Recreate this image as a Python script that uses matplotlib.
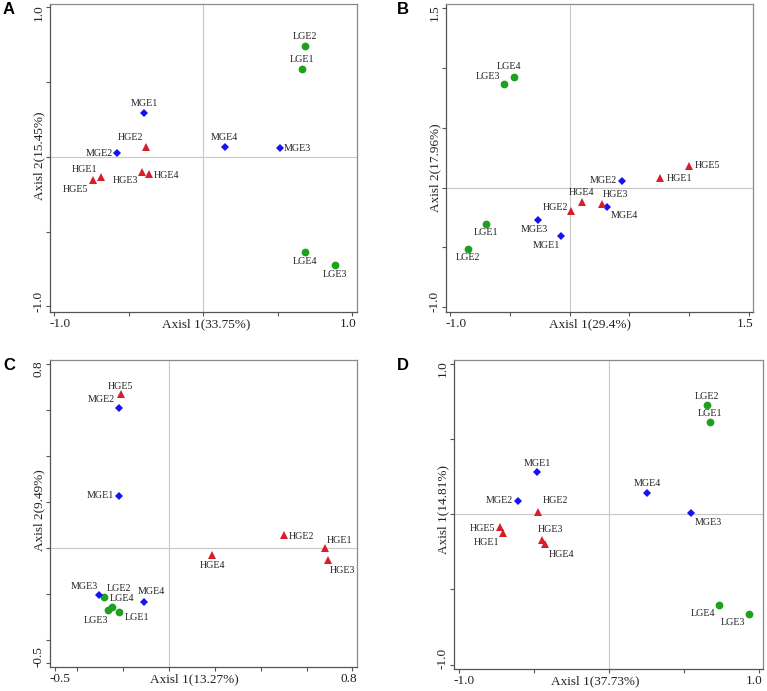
import matplotlib
matplotlib.use('Agg')
import matplotlib.pyplot as plt
from matplotlib.transforms import offset_copy

plt.rcParams['font.family'] = ['Liberation Serif', 'DejaVu Serif']

# ── Data (ordinate scores) ─────────────────────────────────────────────────
NAMES = ['LGE1', 'LGE2', 'LGE3', 'LGE4',
         'MGE1', 'MGE2', 'MGE3', 'MGE4',
         'HGE1', 'HGE2', 'HGE3', 'HGE4', 'HGE5']

A_X = [0.660, 0.685, 0.885, 0.682, -0.396, -0.577, 0.514, 0.145,
       -0.688, -0.384, -0.411, -0.364, -0.742]
A_Y = [0.588, 0.742, -0.726, -0.637, 0.296, 0.024, 0.056, 0.067,
       -0.138, 0.067, -0.100, -0.116, -0.156]

B_X = [-0.702, -0.849, -0.548, -0.465, -0.072, 0.434, -0.262, 0.312,
       0.757, 0.014, 0.270, 0.100, 1.000]
B_Y = [-0.303, -0.509, 0.863, 0.924, -0.401, 0.058, -0.273, -0.161,
       0.078, -0.198, -0.136, -0.117, 0.181]

C_X = [-0.217, -0.285, -0.267, -0.250, -0.218, -0.221, -0.307, -0.110,
       0.679, 0.501, 0.693, 0.188, -0.208]
C_Y = [-0.278, -0.213, -0.270, -0.258, 0.229, 0.610, -0.203, -0.232,
       0.000, 0.057, -0.052, -0.030, 0.670]

D_X = [0.673, 0.653, 0.938, 0.733, -0.478, -0.607, 0.549, 0.256,
       -0.709, -0.473, -0.447, -0.424, -0.729]
D_Y = [0.614, 0.727, -0.663, -0.601, 0.279, 0.091, 0.007, 0.144,
       -0.124, 0.016, -0.169, -0.200, -0.086]

X_LABELS = ['Axisl 1(33.75%)', 'Axisl 1(29.4%)', 'Axisl 1(13.27%)', 'Axisl 1(37.73%)']
Y_LABELS = ['Axisl 2(15.45%)', 'Axisl 2(17.96%)', 'Axisl 2(9.49%)', 'Axisl 1(14.81%)']
PANELS = ['A', 'B', 'C', 'D']

# ── Layout / style ─────────────────────────────────────────────────────────
W, H = 767, 691
# axes boxes in pixels: left, top, right, bottom
BOXES = [(50, 4, 357, 312), (446, 4, 753, 312),
         (50, 360, 357, 667), (454, 360, 763, 669)]
XLIMS = [(-1.028, 1.032), (-1.036, 1.534), (-0.52, 0.82), (-1.033, 1.029)]
YLIMS = [(-1.038, 1.022), (-1.038, 1.531), (-0.517, 0.819), (-1.029, 1.027)]
XTICKS = [[-1, -0.5, 0, 0.5, 1], [-1, -0.5, 0, 0.5, 1, 1.5],
          [-0.5, -0.4, -0.2, 0, 0.2, 0.4, 0.6, 0.8], [-1, -0.5, 0, 0.5, 1]]
YTICKS = [[-1, -0.5, 0, 0.5, 1], [-1, -0.5, 0, 0.5, 1, 1.5],
          [-0.5, -0.4, -0.2, 0, 0.2, 0.4, 0.6, 0.8], [-1, -0.5, 0, 0.5, 1]]
XLAB_POS = [0.508, 0.468, 0.470, 0.457]
YLAB_POS = [0.508, 0.469, 0.510, 0.515]
LETTER_POS = [(9, 9), (403, 9), (9, 365), (403, 366)]

# label offsets in pixels (dx right, dy down) from each point
OFFSETS = [
    {'LGE2': (0, -9), 'LGE1': (0, -9), 'MGE1': (0, -9), 'HGE2': (-16, -9),
     'MGE4': (0, -9), 'MGE3': (18, 0), 'MGE2': (-18, 0), 'HGE1': (-16, -8),
     'HGE5': (-17, 9), 'HGE3': (-16, 9), 'HGE4': (18, 1), 'LGE4': (0, 9),
     'LGE3': (0, 9)},
    {'LGE4': (-5, -10), 'LGE3': (-16, -8), 'HGE5': (18, 0), 'HGE1': (19, 0),
     'MGE2': (-18, 0), 'HGE4': (0, -9), 'HGE3': (13, -9), 'MGE4': (17, 9),
     'HGE2': (-16, -4), 'MGE3': (-4, 9), 'MGE1': (-15, 10), 'LGE1': (0, 9),
     'LGE2': (0, 9)},
    {'HGE5': (-1, -8), 'MGE2': (-17, -9), 'MGE1': (-19, 0), 'HGE2': (17, 1),
     'HGE1': (15, -8), 'HGE3': (15, 10), 'HGE4': (0, 10), 'MGE3': (-14, -8),
     'LGE2': (15, -9), 'MGE4': (7, -10), 'LGE4': (10, -9), 'LGE3': (-12, 10),
     'LGE1': (18, 5)},
    {'LGE2': (0, -9), 'LGE1': (0, -9), 'MGE1': (0, -9), 'MGE4': (0, -9),
     'MGE2': (-19, 0), 'HGE2': (17, -11), 'MGE3': (17, 9), 'HGE5': (-17, 1),
     'HGE1': (-16, 10), 'HGE3': (9, -10), 'HGE4': (16, 10), 'LGE4': (-16, 9),
     'LGE3': (-16, 9)},
]

GROUP_STYLE = {
    'L': dict(marker='o', color='#1fa01f', ms=5.6),
    'M': dict(marker='D', color='#1414f0', ms=4.2),
    'H': dict(marker='^', color='#d81e2a', ms=5.2),
}

fig = plt.figure(figsize=(W / 100, H / 100), dpi=100)

data = [(A_X, A_Y), (B_X, B_Y), (C_X, C_Y), (D_X, D_Y)]

for i, (xs, ys) in enumerate(data):
    l, t, r, b = BOXES[i]
    ax = fig.add_axes([l / W, 1 - b / H, (r - l) / W, (b - t) / H])
    ax.set_xlim(*XLIMS[i])
    ax.set_ylim(*YLIMS[i])

    ax.axhline(0, color='#c8c8c8', lw=0.8, zorder=0)
    ax.axvline(0, color='#c8c8c8', lw=0.8, zorder=0)

    for name, x, y in zip(NAMES, xs, ys):
        st = GROUP_STYLE[name[0]]
        ax.plot(x, y, linestyle='none', marker=st['marker'], color=st['color'],
                markersize=st['ms'], markeredgewidth=0, zorder=3)
        dx, dy = OFFSETS[i][name]
        ax.annotate(name, (x, y), xytext=(dx, -dy), textcoords='offset pixels',
                    ha='center', va='center', fontsize=7.2, color='#222222')

    # frame and ticks
    for side, sp in ax.spines.items():
        sp.set_color('#8a8a8a' if side in ('top', 'right') else '#555555')
        sp.set_linewidth(0.9)
    ax.set_xticks(XTICKS[i])
    ax.set_yticks(YTICKS[i])
    ax.tick_params(direction='out', length=3, width=0.8, color='#555555',
                   labelbottom=False, labelleft=False)

    # end tick labels aligned to the frame, as in the original
    xt = XTICKS[i]
    yt = YTICKS[i]
    below = offset_copy(ax.transAxes, fig=fig, x=0, y=-12, units='dots')
    leftof = offset_copy(ax.transAxes, fig=fig, x=-11, y=0, units='dots')
    ax.text(0, 0, f'{xt[0]:.1f}', transform=below, ha='left', va='center',
            fontsize=9.5, color='#222222')
    ax.text(1, 0, f'{xt[-1]:.1f}', transform=below, ha='right', va='center',
            fontsize=9.5, color='#222222')
    ax.text(0, 1, f'{yt[-1]:.1f}', transform=leftof, ha='center', va='top',
            rotation=90, fontsize=9.5, color='#222222')
    ax.text(0, 0, f'{yt[0]:.1f}', transform=leftof, ha='center', va='bottom',
            rotation=90, fontsize=9.5, color='#222222')
    ax.text(XLAB_POS[i], 0, X_LABELS[i], transform=below, ha='center',
            va='center', fontsize=9.5, color='#222222')
    ax.text(0, YLAB_POS[i], Y_LABELS[i], transform=leftof, ha='center',
            va='center', rotation=90, fontsize=9.5, color='#222222')

    lx, ly = LETTER_POS[i]
    fig.text(lx / W, 1 - ly / H, PANELS[i], ha='center', va='center',
             fontsize=12, fontweight='bold', family='Liberation Sans')

fig.savefig('out.png', dpi=100)
